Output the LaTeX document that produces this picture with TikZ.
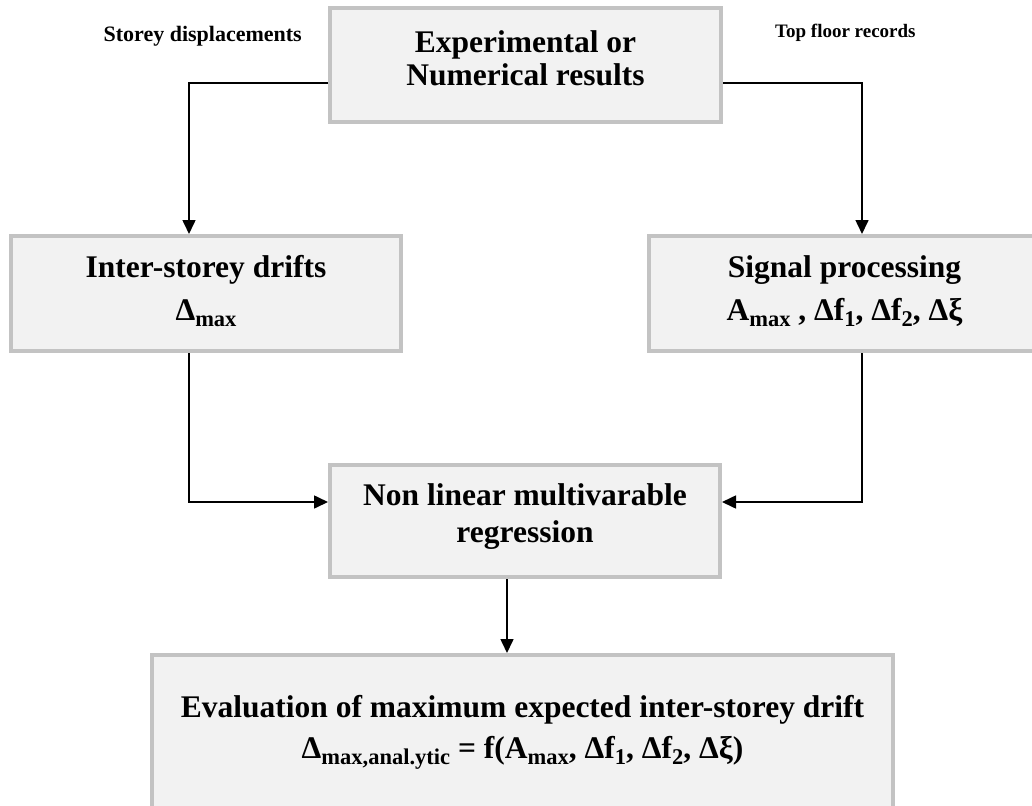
\documentclass[tikz,border=0pt]{standalone}
\usepackage{fontspec}
\setmainfont{Liberation Serif}
\usetikzlibrary{arrows.meta}
\definecolor{boxgrey}{HTML}{C3C3C3}
\definecolor{boxfill}{HTML}{F2F2F2}
\newcommand\sbx[1]{\raisebox{-6pt}{\fontsize{22.5}{22.5}\selectfont #1}}
\begin{document}
\begin{tikzpicture}[x=1pt,y=-1pt,
  box/.style={draw=boxgrey, fill=boxfill, line width=4pt, inner sep=0pt},
  txt/.style={font=\bfseries\fontsize{31.5}{36}\selectfont, anchor=base, inner sep=0pt},
  sidea/.style={font=\bfseries\fontsize{22}{26}\selectfont, inner sep=0pt},
  sideb/.style={font=\bfseries\fontsize{19}{23}\selectfont, inner sep=0pt},
  conn/.style={line width=1.6pt, -{Triangle[length=14pt,width=13pt]}}]
\useasboundingbox (0,0) rectangle (1032,805);
\clip (0,0) rectangle (1032,805);
\node[box, minimum width=391pt, minimum height=114pt] (top) at (525.5,65) {};
\node[box, minimum width=390pt, minimum height=115pt] (left) at (206,293.5) {};
\node[box, minimum width=391pt, minimum height=115pt] (right) at (844.5,293.5) {};
\node[box, minimum width=390pt, minimum height=112pt] (mid) at (525,521) {};
\node[box, minimum width=741pt, minimum height=200pt] (bot) at (522.5,755) {};
\node[txt] (t1) at (525.5,53) {Experimental or};
\node[txt] (t2) at (525.5,86) {Numerical results};
\node[txt] (l1) at (206,277) {Inter-storey drifts};
\node[txt] (l2) at (206,320) {Δ\sbx{max}};
\node[txt] (r1) at (844.5,277) {Signal processing};
\node[txt] (r2) at (844.5,320) {A\sbx{max} , Δf\sbx{1}, Δf\sbx{2}, Δξ};
\node[txt] (m1) at (525,505) {Non linear multivarable};
\node[txt] (m2) at (525,542) {regression};
\node[txt] (b1) at (522.5,717) {Evaluation of maximum expected inter-storey drift};
\node[txt] (b2) at (522.5,758) {Δ\sbx{max,anal.ytic} = f(A\sbx{max}, Δf\sbx{1}, Δf\sbx{2}, Δξ)};
\node[sidea, anchor=base east] (sd) at (302,42) {Storey displacements};
\node[sideb, anchor=base west] (tf) at (775,38) {Top floor records};
\draw[conn] ([yshift=-18pt]top.west) -| ([xshift=-17pt]left.north);
\draw[conn] ([yshift=-18pt]top.east) -| ([xshift=17.5pt]right.north);
\draw[conn] ([xshift=-17pt]left.south) |- ([yshift=19pt]mid.west);
\draw[conn] ([xshift=17.5pt]right.south) |- ([yshift=19pt]mid.east);
\draw[conn] ([xshift=-18pt]mid.south) -- ([xshift=-18pt]mid.south |- bot.north);
\end{tikzpicture}
\end{document}
